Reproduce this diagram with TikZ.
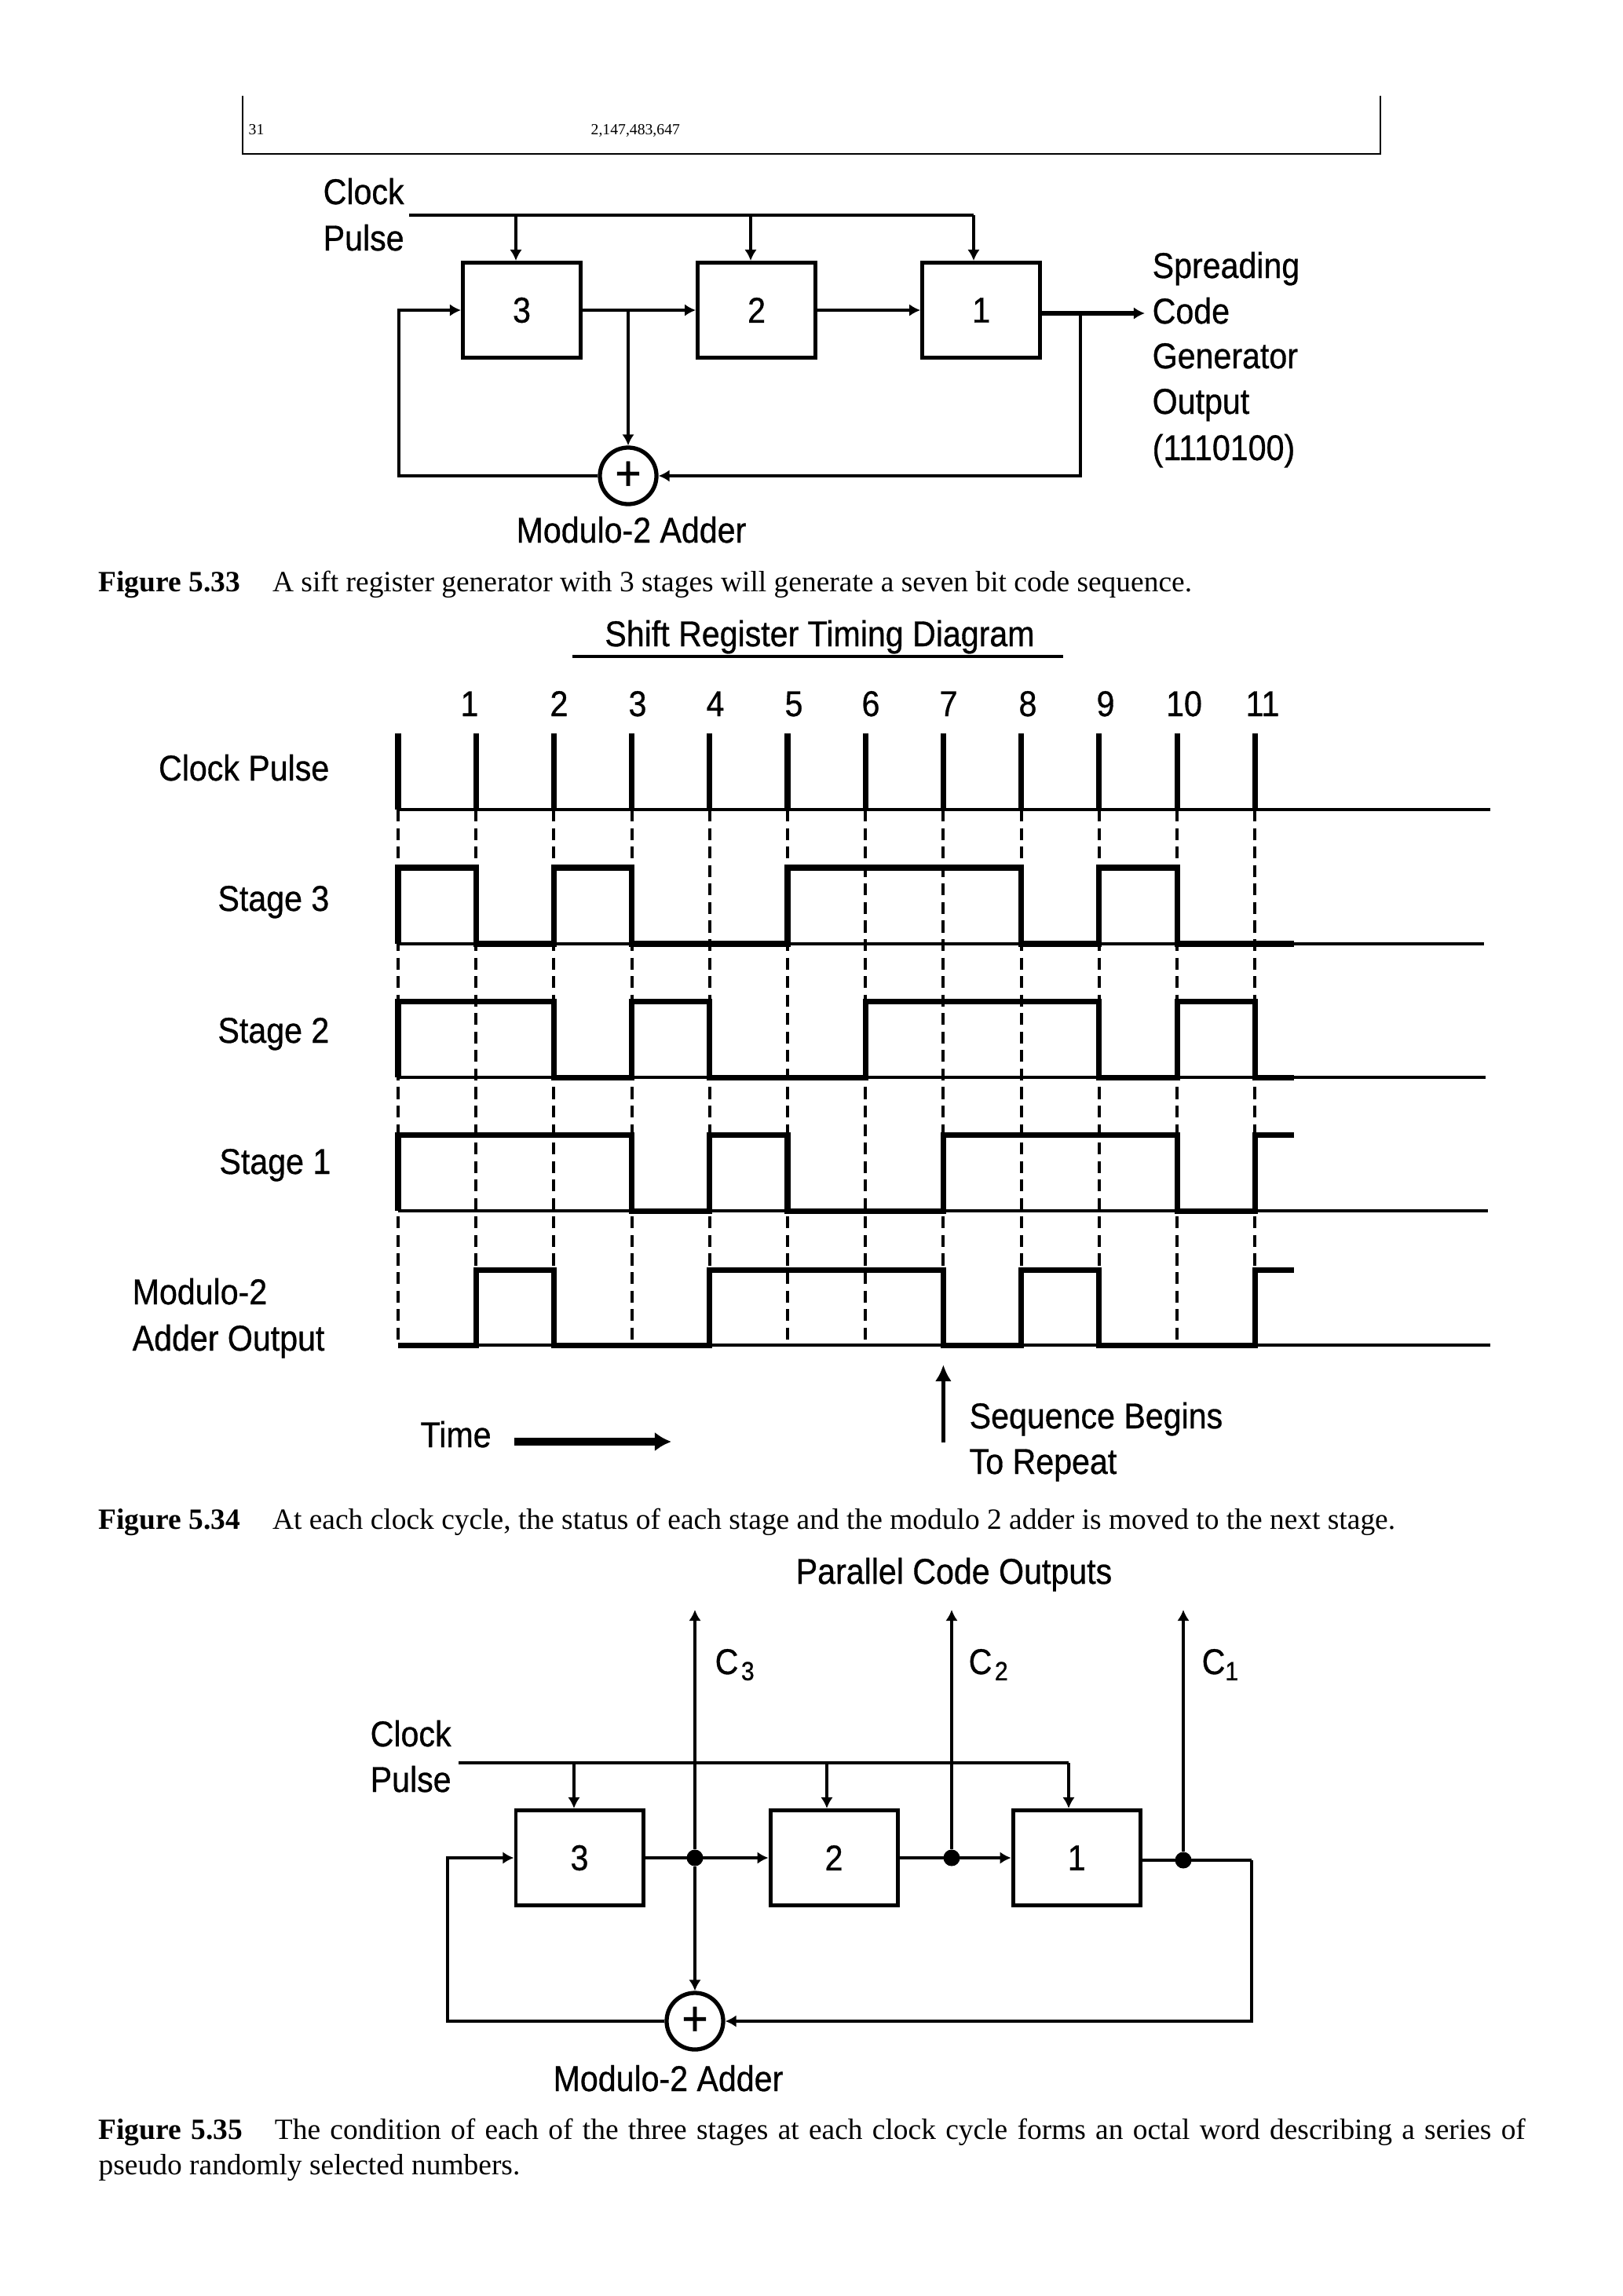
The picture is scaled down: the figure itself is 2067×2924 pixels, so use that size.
\documentclass[tikz,border=0pt]{standalone}
\usepackage{fontspec}
\usepackage{tikz}
\usetikzlibrary{arrows.meta,positioning}
\newfontfamily\labelfont[FakeStretch=0.9,FakeBold=0.7]{Liberation Sans}
\newfontfamily\capfont{Liberation Serif}
\newcommand{\subdigit}[1]{\raisebox{-2.2pt}{\fontsize{9.5}{9.5}\selectfont #1}}

\begin{document}
\begin{tikzpicture}[
  x=0.01cm, y=-0.01cm,
  font=\labelfont\fontsize{13}{15}\selectfont,
  regbox/.style={draw, line width=1.4pt, inner sep=0pt, minimum height=12.1mm},
  adderbox/.style={draw, circle, line width=1.5pt, inner sep=0pt, minimum size=7.2mm, font=\labelfont\fontsize{18}{18}\selectfont},
  dotnode/.style={circle, fill=black, inner sep=0pt, minimum size=2.1mm},
  txt/.style={anchor=base west, inner sep=0pt},
  txtr/.style={anchor=base east, inner sep=0pt},
  txtc/.style={anchor=base, inner sep=0pt},
  captext/.style={anchor=base west, inner sep=0pt, font=\capfont\fontsize{10.65}{12.8}\selectfont},
  flow/.style={-{Latex[length=4pt,width=4.4pt]}, line width=1.2pt},
  bus/.style={line width=1.4pt},
  thinline/.style={line width=0.9pt},
  wave/.style={line width=2pt, line join=miter},
  guide/.style={line width=1.1pt, dash pattern=on 4.3pt off 2.4pt}]
\useasboundingbox (0,0) rectangle (2067,2924);

% table remainder
\coordinate (tabtl) at (309,122);
\coordinate (tabtr) at (1758,122);
\coordinate (tabbr) at (1758,196);
\draw[line width=0.8pt] (tabtl) |- (tabbr) -- (tabtr);
\node[captext, font=\capfont\fontsize{5.6}{6}\selectfont] (tabn) at (316,171) {31};
\node[captext, font=\capfont\fontsize{5.6}{6}\selectfont] (tabv) at (752,171) {2,147,483,647};

% first register figure
\node[regbox, minimum width=15mm] (regthreeA) at (664.5,395) {3};
\node[regbox, minimum width=15mm, right=14.4mm of regthreeA] (regtwoA) {2};
\node[regbox, minimum width=15mm, right=13.1mm of regtwoA] (regoneA) {1};
\node[adderbox] (adderA) at (800,606) {+};
\node[txt] (clockA) at (411,260) {Clock};
\node[txt] (pulseA) at (411,319) {Pulse};
\node[txtc] (addlabA) at (804,691) {Modulo-2 Adder};
\node[txt] (outlabA) at (1467,354) {Spreading};
\node[txt] (outlabB) at (1467,412) {Code};
\node[txt] (outlabC) at (1467,469) {Generator};
\node[txt] (outlabD) at (1467,527) {Output};
\node[txt] (outlabE) at (1467,586) {(1110100)};
\coordinate (busstartA) at (521,274);
\coordinate (busendA) at (1240,274);
\coordinate (tapthreeA) at (657,274);
\coordinate (taptwoA) at (956,274);
\coordinate (juncA) at (800,395);
\coordinate (loopA) at (508,606);
\coordinate (outtapA) at (1376,399);
\coordinate (outtipA) at (1458,399);
\draw[bus] (busstartA) -- (busendA);
\draw[flow] (tapthreeA) -- (tapthreeA |- regthreeA.north);
\draw[flow] (taptwoA) -- (taptwoA |- regtwoA.north);
\draw[flow] (busendA) -- (busendA |- regoneA.north);
\draw[flow] (regthreeA) -- (regtwoA);
\draw[flow] (regtwoA) -- (regoneA);
\draw[flow] (juncA) -- (adderA);
\draw[flow] (adderA.west) -- (loopA) |- (regthreeA.west);
\draw[flow] (outtapA) |- (adderA.east);
\draw[flow, line width=1.6pt] (regoneA.east |- outtapA) -- (outtipA);
\node[captext] (capA) at (125,753) {\textbf{Figure 5.33}\hspace{4.1mm}A sift register generator with 3 stages will generate a seven bit code sequence.};

% timing diagram
\node[txtc] (timetitle) at (1044,823) {Shift Register Timing Diagram};
\coordinate (ulinel) at (729,836);
\coordinate (uliner) at (1354,836);
\draw[bus] (ulinel) -- (uliner);
\coordinate (hithree) at (0,1105); \coordinate (lothree) at (0,1202);
\coordinate (hitwo) at (0,1275);   \coordinate (lotwo) at (0,1372);
\coordinate (hione) at (0,1445);   \coordinate (loone) at (0,1542);
\coordinate (himod) at (0,1617);   \coordinate (lomod) at (0,1713);
\coordinate (clktop) at (0,934);   \coordinate (clklow) at (0,1031);
\coordinate (tend) at (1648,0);
\foreach \i/\lab/\lx in {0//507,1/1/598,2/2/712,3/3/812,4/4/911,5/5/1011,6/6/1109,7/7/1208,8/8/1309,9/9/1408,10/10/1508,11/11/1608} {
  \coordinate (t\i) at ({507+99.2*\i},0);
  \node[txtc] (num\i) at (\lx,912) {\lab};
  \draw[wave] (t\i|-clktop) -- (t\i|-clklow);
  \draw[guide] (t\i|-clklow) -- (t\i|-lomod);
}
\coordinate (basea) at (1898,1031);
\coordinate (baseb) at (1890,1202);
\coordinate (basec) at (1892,1372);
\coordinate (based) at (1895,1542);
\coordinate (basee) at (1898,1713);
\draw[thinline] (t0|-clklow) -- (basea);
\draw[thinline] (t0|-lothree) -- (baseb);
\draw[thinline] (t0|-lotwo) -- (basec);
\draw[thinline] (t0|-loone) -- (based);
\draw[thinline] (t0|-lomod) -- (basee);
\draw[wave] (t0|-lothree) |- (t1|-hithree) |- (t2|-lothree) |- (t3|-hithree) |- (t5|-lothree) |- (t8|-hithree) |- (t9|-lothree) |- (t10|-hithree) |- (tend|-lothree);
\draw[wave] (t0|-lotwo) |- (t2|-hitwo) |- (t3|-lotwo) |- (t4|-hitwo) |- (t6|-lotwo) |- (t9|-hitwo) |- (t10|-lotwo) |- (t11|-hitwo) |- (tend|-lotwo);
\draw[wave] (t0|-loone) |- (t3|-hione) |- (t4|-loone) |- (t5|-hione) |- (t7|-loone) |- (t10|-hione) |- (t11|-loone) |- (tend|-hione);
\draw[wave] (t0|-lomod) -- (t1|-lomod) |- (t2|-himod) |- (t4|-lomod) |- (t7|-himod) |- (t8|-lomod) |- (t9|-himod) |- (t11|-lomod) |- (tend|-himod);
\node[txtr] (lclk) at (420,994) {Clock Pulse};
\node[txtr] (lthree) at (420,1160) {Stage 3};
\node[txtr] (ltwo) at (420,1328) {Stage 2};
\node[txtr] (lone) at (422,1495) {Stage 1};
\node[txt] (lmodA) at (168,1661) {Modulo-2};
\node[txt] (lmodB) at (168,1720) {Adder Output};
\node[txt] (ltime) at (535,1843) {Time};
\node[txt] (lseqA) at (1234,1819) {Sequence Begins};
\node[txt] (lseqB) at (1234,1877) {To Repeat};
\coordinate (timeA) at (655,1836);
\coordinate (timeB) at (855,1836);
\coordinate (seqlow) at (0,1837);
\coordinate (seqhigh) at (0,1738);
\draw[-{Latex[length=6pt,width=7pt]}, line width=2.6pt] (timeA) -- (timeB);
\draw[-{Latex[length=6pt,width=6pt]}, line width=1.6pt] (t7|-seqlow) -- (t7|-seqhigh);
\node[captext] (capB) at (125,1947) {\textbf{Figure 5.34}\hspace{4.1mm}At each clock cycle, the status of each stage and the modulo 2 adder is moved to the next stage.};

% parallel outputs figure
\node[txtc] (partitle) at (1215,2017) {Parallel Code Outputs};
\node[regbox, minimum width=16.2mm] (regthreeB) at (738,2366) {3};
\node[regbox, minimum width=16.2mm, right=15.7mm of regthreeB] (regtwoB) {2};
\node[regbox, minimum width=16.2mm, right=14.2mm of regtwoB] (regoneB) {1};
\node[adderbox] (adderB) at (885,2574) {+};
\node[dotnode] (dotthree) at (885,2366) {};
\node[dotnode] (dottwo) at (1212,2366) {};
\node[dotnode] (dotone) at (1507,2369) {};
\node[txt] (cthree) at (910,2132) {C\kern1pt\subdigit{3}};
\node[txt] (ctwo) at (1233,2132) {C\kern1pt\subdigit{2}};
\node[txt] (cone) at (1530,2132) {C\subdigit{1}};
\node[txt] (clockB) at (471,2224) {Clock};
\node[txt] (pulseB) at (471,2282) {Pulse};
\node[txtc] (addlabB) at (851,2663) {Modulo-2 Adder};
\coordinate (busstartB) at (584,2245);
\coordinate (busendB) at (1361,2245);
\coordinate (tapthreeB) at (731,2245);
\coordinate (taptwoB) at (1053,2245);
\coordinate (loopB) at (570,2574);
\coordinate (rightB) at (1594,2369);
\coordinate (topthree) at (885,2050);
\coordinate (toptwo) at (1212,2050);
\coordinate (topone) at (1507,2050);
\draw[bus] (busstartB) -- (busendB);
\draw[flow] (tapthreeB) -- (tapthreeB |- regthreeB.north);
\draw[flow] (taptwoB) -- (taptwoB |- regtwoB.north);
\draw[flow] (busendB) -- (busendB |- regoneB.north);
\draw[flow] (dotthree) -- (topthree);
\draw[flow] (dottwo) -- (toptwo);
\draw[flow] (dotone) -- (topone);
\draw[flow] (regthreeB) -- (regtwoB);
\draw[flow] (regtwoB) -- (regoneB);
\draw[flow] (dotthree) -- (adderB);
\draw[flow] (adderB.west) -- (loopB) |- (regthreeB.west);
\draw[bus] (regoneB.east |- rightB) -- (rightB);
\draw[flow] (rightB) |- (adderB.east);
\node[captext, text width=18.16cm, align=justify, anchor=north west] (capC) at (125,2697) {\textbf{Figure 5.35}\hspace{4.1mm}The condition of each of the three stages at each clock cycle forms an octal word describing a series of pseudo randomly selected numbers.};
\end{tikzpicture}
\end{document}
